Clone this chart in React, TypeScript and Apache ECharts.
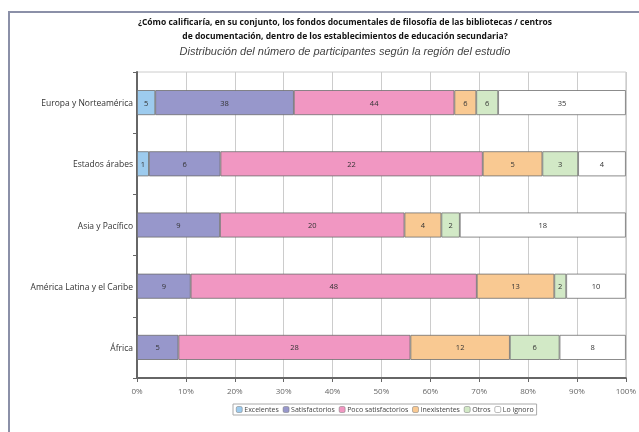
import React, { useEffect, useRef } from "react";
import * as echarts from "echarts";

const categories = ["África", "América Latina y el Caribe", "Asia y Pacífico", "Estados árabes", "Europa y Norteamérica"];
const seriesNames = ["Excelentes", "Satisfactorios", "Poco satisfactorios", "Inexistentes", "Otros", "Lo ignoro"];
const excelentes = [0, 0, 0, 1, 5];
const satisfactorios = [5, 9, 9, 6, 38];
const pocoSatisfactorios = [28, 48, 20, 22, 44];
const inexistentes = [12, 13, 4, 5, 6];
const otros = [6, 2, 2, 3, 6];
const loIgnoro = [8, 10, 18, 4, 35];
const xTicks = [0, 10, 20, 30, 40, 50, 60, 70, 80, 90, 100];
const colors = ["#9DCBEE", "#9797CB", "#F197C2", "#F9C992", "#D2E9C6", "#FFFFFF"];

export default function App() {
  const ref = useRef<HTMLDivElement>(null);
  useEffect(() => {
    if (!ref.current) return;
    const chart = echarts.init(ref.current, null, { renderer: "svg" });
    const raw = [excelentes, satisfactorios, pocoSatisfactorios, inexistentes, otros, loIgnoro];
    const totals = categories.map((_, i) => raw.reduce((s, arr) => s + arr[i], 0));
    const series = raw.map((arr, k) => ({
      name: seriesNames[k],
      type: "bar",
      stack: "total",
      barWidth: 25,
      data: arr.map((v, i) => ({ value: (v / totals[i]) * 100, raw: v })),
      itemStyle: { color: colors[k], borderColor: "#6f6f6f", borderWidth: 0.8 },
      label: {
        show: true,
        position: "inside",
        fontSize: 7.5,
        color: "#333",
        fontFamily: "Open Sans",
        formatter: (p: any) => (p.data.raw > 0 ? String(p.data.raw) : ""),
      },
    }));
    chart.setOption({
      animation: false,
      title: {
        text: "¿Cómo calificaría, en su conjunto, los fondos documentales de filosofía de las bibliotecas / centros\nde documentación, dentro de los establecimientos de educación secundaria?",
        subtext: "Distribución del número de participantes según la región del estudio",
        left: 340,
        textAlign: "center",
        top: 9,
        itemGap: 3,
        textStyle: { fontSize: 8.5, fontWeight: "bold", color: "#111", fontFamily: "Open Sans", lineHeight: 14 },
        subtextStyle: { fontSize: 11, fontStyle: "italic", color: "#444", fontFamily: "Liberation Sans" },
      },
      legend: {
        data: seriesNames,
        left: 233,
        top: 404,
        itemWidth: 6,
        itemHeight: 6,
        itemGap: 4,
        padding: [2, 3],
        borderColor: "#aaa",
        borderWidth: 1,
        textStyle: { fontSize: 7, color: "#444", fontFamily: "Open Sans", padding: [0, 0, 0, -3] },
        itemStyle: { borderColor: "#777", borderWidth: 0.5 },
      },
      grid: {
        left: 137,
        right: 12,
        top: 72,
        bottom: 54,
        show: true,
        borderColor: "#ccc",
        borderWidth: 1,
      },
      xAxis: {
        type: "value",
        min: 0,
        max: 100,
        interval: 10,
        axisLine: { show: true, lineStyle: { color: "#666", width: 2 } },
        axisTick: { show: true, length: 4, lineStyle: { color: "#666" } },
        axisLabel: {
          fontSize: 8,
          color: "#666",
          fontFamily: "Open Sans",
          margin: 8,
          formatter: (v: number) => (xTicks.includes(v) ? v + "%" : ""),
        },
        splitLine: { show: true, lineStyle: { color: "#ccc", width: 1 } },
      },
      yAxis: {
        type: "category",
        data: categories,
        axisLine: { show: true, lineStyle: { color: "#666", width: 2 } },
        axisTick: { show: true, length: 4, lineStyle: { color: "#666" } },
        axisLabel: { fontSize: 8.5, color: "#333", fontFamily: "Open Sans", margin: 4 },
        splitLine: { show: false },
      },
      graphic: [
        { type: "line", shape: { x1: 8, y1: 12, x2: 639, y2: 12 }, style: { stroke: "#8b90a8", lineWidth: 2 } },
        { type: "line", shape: { x1: 9, y1: 12, x2: 9, y2: 432 }, style: { stroke: "#8b90a8", lineWidth: 2 } },
      ],
      series,
    });
    return () => chart.dispose();
  }, []);
  return <div ref={ref} style={{ position: "fixed", left: 0, top: 0, width: 639, height: 432 }} />;
}
